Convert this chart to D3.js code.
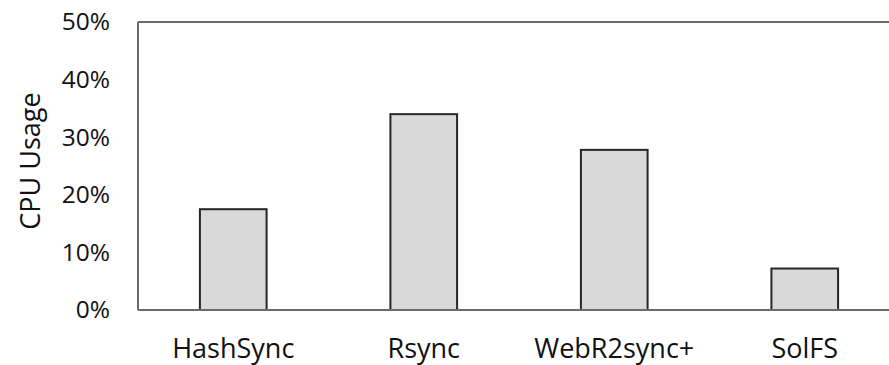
<!DOCTYPE html>
<html><head><meta charset="utf-8">
<script src="https://cdn.jsdelivr.net/npm/d3@7"></script>
<style>body{margin:0;background:#fff}</style>
</head><body>
<svg id="c" width="889" height="365"></svg>
<script>
const categories = ["HashSync", "Rsync", "WebR2sync+", "SolFS"];
const cpuUsage = [17.5, 34.0, 27.8, 7.2];
const yTicks = [0, 10, 20, 30, 40, 50];
const yTitle = "CPU Usage";

const svg = d3.select("#c");
const m = {left: 138, top: 22, bottom: 310, right: 900};
const font = "'Open Sans', sans-serif";

const x = d3.scaleBand().domain(categories).range([m.left, m.right]).paddingInner(0.65).paddingOuter(0.325);
const y = d3.scaleLinear().domain([0, 50]).range([m.bottom, m.top]);

// frame lines
svg.append("line").attr("x1", m.left).attr("x2", m.right).attr("y1", y(50)).attr("y2", y(50))
  .attr("stroke", "#6b6b6b").attr("stroke-width", 2);
svg.append("line").attr("x1", m.left).attr("x2", m.left).attr("y1", y(50)).attr("y2", y(0))
  .attr("stroke", "#6b6b6b").attr("stroke-width", 2);

// bars
svg.append("g").selectAll("rect").data(categories).join("rect")
  .attr("x", d => x(d))
  .attr("width", x.bandwidth())
  .attr("y", (d, i) => y(cpuUsage[i]))
  .attr("height", (d, i) => y(0) - y(cpuUsage[i]))
  .attr("fill", "#d9d9d9").attr("stroke", "#262626").attr("stroke-width", 2);

// baseline
svg.append("line").attr("x1", m.left).attr("x2", m.right).attr("y1", y(0)).attr("y2", y(0))
  .attr("stroke", "#6b6b6b").attr("stroke-width", 2);

// y axis labels
const yAxis = d3.axisLeft(y).tickValues(yTicks).tickFormat(d => d + "%").tickSize(0).tickPadding(28);
const gy = svg.append("g").attr("transform", `translate(${m.left},0)`).call(yAxis);
gy.select(".domain").remove();
gy.selectAll("text").attr("font-family", font).attr("font-size", 24.5).attr("fill", "#111");

// x axis labels
const xAxis = d3.axisBottom(x).tickSize(0).tickPadding(0);
const gx = svg.append("g").attr("transform", `translate(0,${m.bottom})`).call(xAxis);
gx.select(".domain").remove();
gx.selectAll("text").attr("font-family", font).attr("font-size", 27).attr("fill", "#111")
  .attr("dy", null).attr("y", 48);

// y title
svg.append("text").attr("transform", `translate(40,161) rotate(-90)`)
  .attr("text-anchor", "middle").attr("font-family", font).attr("font-size", 27).attr("fill", "#111")
  .text(yTitle);
</script>
</body></html>
